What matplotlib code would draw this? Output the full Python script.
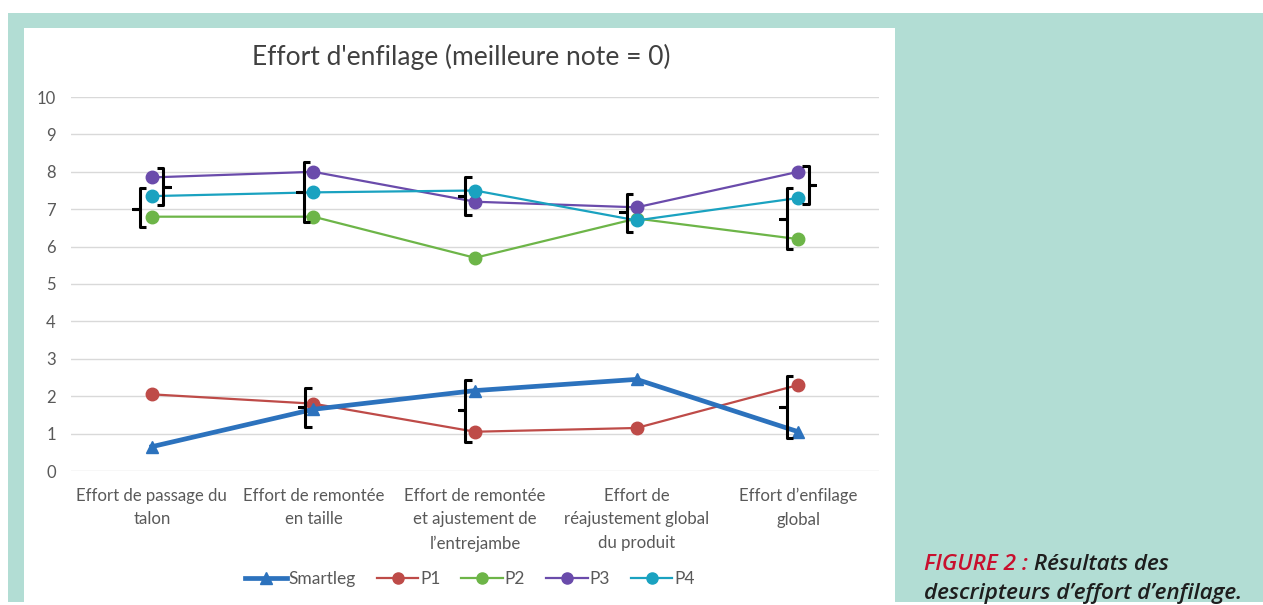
import matplotlib.pyplot as plt
import numpy as np
from matplotlib.patches import Rectangle
from matplotlib.lines import Line2D

categories = ["Effort de passage du\ntalon", "Effort de remontée\nen taille",
              "Effort de remontée\net ajustement de\nl\u2019entrejambe",
              "Effort de\nréajustement global\ndu produit", "Effort d\u2019enfilage\nglobal"]
smartleg = [0.65, 1.65, 2.15, 2.45, 1.05]
p1 = [2.05, 1.8, 1.05, 1.15, 2.3]
p2 = [6.8, 6.8, 5.7, 6.75, 6.2]
p3 = [7.85, 8.0, 7.2, 7.05, 8.0]
p4 = [7.35, 7.45, 7.5, 6.7, 7.3]

# groupings: category, x offset (cat units), y bottom, y top, y of the notch, side
brace_cat = [0, 0, 1, 2, 3, 4, 4, 1, 2, 4]
brace_dx = [0.07, -0.075, -0.06, -0.06, -0.06, 0.065, -0.07, -0.05, -0.06, -0.07]
brace_lo = [7.11, 6.52, 6.66, 6.84, 6.39, 7.14, 5.94, 1.18, 0.78, 0.88]
brace_hi = [8.10, 7.57, 8.26, 7.86, 7.41, 8.16, 7.57, 2.22, 2.43, 2.54]
brace_tip = [7.6, 7.0, 7.46, 7.35, 6.93, 7.65, 6.74, 1.71, 1.63, 1.71]
brace_side = ['}', '{', '{', '{', '{', '}', '{', '{', '{', '{']

W, H = 1263, 605
fig = plt.figure(figsize=(W / 100, H / 100), dpi=100)
fig.patch.set_facecolor('white')

def fig_rect(x0, y0, x1, y1, color):
    fig.patches.append(Rectangle((x0 / W, 1 - y1 / H), (x1 - x0) / W, (y1 - y0) / H,
                                 transform=fig.transFigure, facecolor=color,
                                 edgecolor='none', zorder=-10))

fig_rect(8, 13, 1263, 602, '#b2ddd4')
fig_rect(24, 28, 895, 602, 'white')

ax = fig.add_axes([71 / W, 1 - 471 / H, (879 - 71) / W, (471 - 97) / H])
ax.set_zorder(1)
ax.set_facecolor('none')
x = np.arange(len(categories))

ax.plot(x, p1, color='#be4b48', lw=1.6, marker='o', ms=9, zorder=3)
ax.plot(x, p2, color='#6db548', lw=1.6, marker='o', ms=9, zorder=3)
ax.plot(x, p3, color='#6a4bab', lw=1.6, marker='o', ms=9, zorder=3)
ax.plot(x, p4, color='#1aa2c0', lw=1.6, marker='o', ms=9, zorder=3)
ax.plot(x, smartleg, color='#2c72bd', lw=3.4, marker='^', ms=9, zorder=4)

ax.set_xlim(-0.5, len(categories) - 0.5)
ax.set_ylim(0, 10)
ax.set_yticks(range(0, 11))
ax.set_xticks(x)
ax.set_xticklabels(categories, fontsize=12.1, color='#595959', family='Lato', linespacing=1.6)
for lab in ax.get_yticklabels():
    lab.set_fontsize(12)
    lab.set_color('#595959')
    lab.set_family('Lato')
ax.tick_params(length=0, pad=11, axis='y')
ax.tick_params(length=0, pad=12, axis='x')
ax.grid(axis='y', color='#d9d9d9', lw=1)
ax.set_axisbelow(True)
for s in ax.spines.values():
    s.set_visible(False)

# black brackets marking groups with no significant difference
wx = 0.04
for c, dx, lo, hi, tip, side in zip(brace_cat, brace_dx, brace_lo, brace_hi, brace_tip, brace_side):
    xv = c + dx
    sgn = 1 if side == '{' else -1
    bx = [xv + sgn * wx, xv, xv, xv - sgn * wx, xv, xv, xv + sgn * wx]
    by = [hi, hi, tip, tip, tip, lo, lo]
    ax.plot(bx, by, color='black', lw=2.2, solid_joinstyle='round',
            solid_capstyle='butt', zorder=5, clip_on=False)

fig.text(461 / W, 1 - 57 / H, "Effort d'enfilage (meilleure note = 0)", ha='center', va='center',
         fontsize=19, color='#404040', family='Lato')

handles = [Line2D([], [], color='#2c72bd', lw=3.4, marker='^', ms=8),
           Line2D([], [], color='#be4b48', lw=1.6, marker='o', ms=8),
           Line2D([], [], color='#6db548', lw=1.6, marker='o', ms=8),
           Line2D([], [], color='#6a4bab', lw=1.6, marker='o', ms=8),
           Line2D([], [], color='#1aa2c0', lw=1.6, marker='o', ms=8)]
fig.legend(handles, ['Smartleg', 'P1', 'P2', 'P3', 'P4'], loc='center', ncol=5,
           bbox_to_anchor=(470 / W, 1 - 579 / H), frameon=False, handlelength=2.4,
           handletextpad=0.1, columnspacing=1.2,
           prop={'family': 'Lato', 'size': 12.5}, labelcolor='#595959')

# caption: red figure number followed by the dark description
cap = dict(fontsize=16.2, style='italic', weight='semibold', family='Open Sans')
t1 = fig.text(924 / W, 1 - 564 / H, "FIGURE 2 :", ha='left', va='center', color='#c8102e', **cap)
fig.add_artist(plt.Annotation(" Résultats des", xy=(1, 0), xycoords=t1, xytext=(0, 0),
                              textcoords='offset points', ha='left', va='bottom',
                              color='#1e1e1e', **cap))
fig.text(924 / W, 1 - 593 / H, "descripteurs d\u2019effort d\u2019enfilage.", ha='left', va='center',
         color='#1e1e1e', **cap)

fig.savefig('out.png', dpi=100)
